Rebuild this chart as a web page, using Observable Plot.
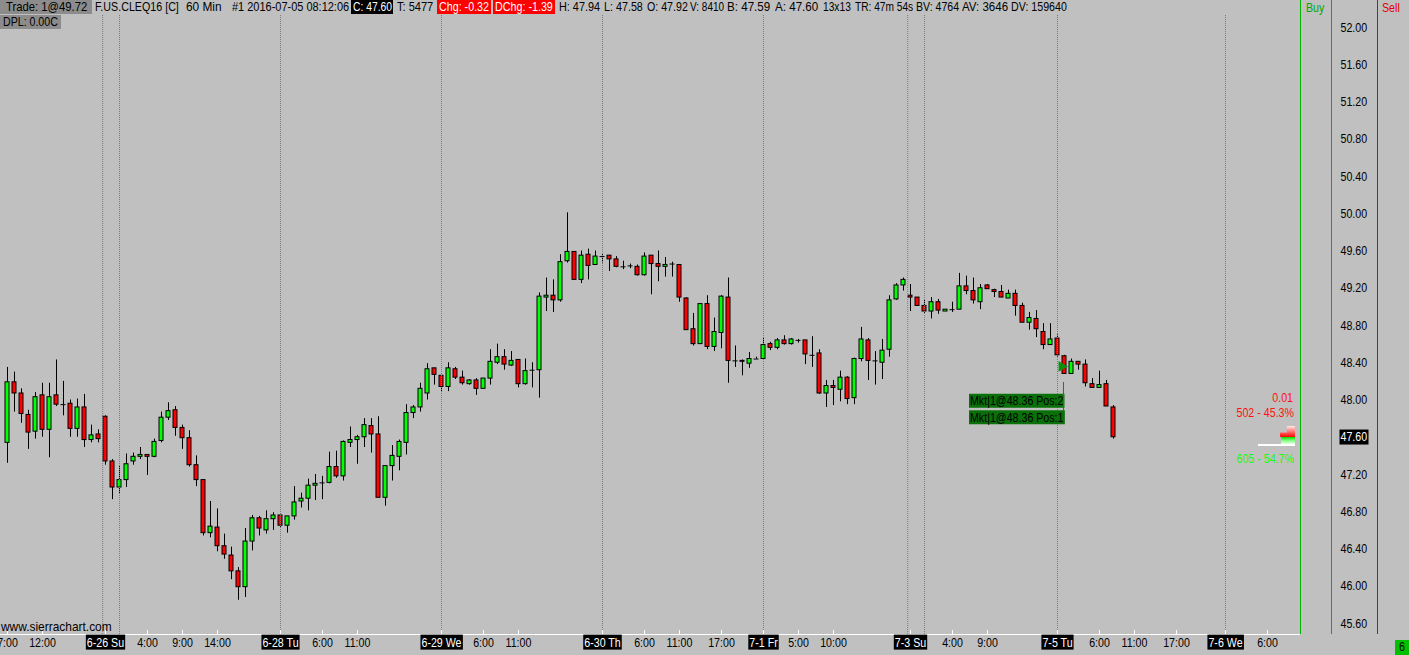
<!DOCTYPE html>
<html><head><meta charset="utf-8">
<script src="https://cdn.jsdelivr.net/npm/d3@7"></script>
<script src="https://cdn.jsdelivr.net/npm/@observablehq/plot@0.6"></script>
<style>
body{margin:0;background:#c0c0c0;}
#wrap{position:relative;width:1409px;height:655px;overflow:hidden;background:#c0c0c0;
 font-family:"Liberation Sans",Arial,sans-serif;font-size:13px;color:#000;}
.ov{position:absolute;white-space:nowrap;line-height:14px;transform:scaleX(0.82);transform-origin:0 0;}
.ovr{position:absolute;white-space:nowrap;line-height:14px;transform:scaleX(0.82);transform-origin:100% 0;text-align:right;}
.bx{position:absolute;}
</style></head><body><div id="wrap"></div>
<script>
// ---------- DATA (CL 60 min bars, index 1..159) ----------
const opens = [47.54,48.19,48.07,47.84,47.66,48.05,47.68,48.05,47.95,47.96,47.69,47.92,47.57,47.63,47.82,47.34,47.06,47.14,47.34,47.39,
47.41,47.39,47.56,47.81,47.89,47.70,47.59,47.30,47.14,46.57,46.63,46.43,46.33,46.16,45.99,46.48,46.73,46.60,46.72,46.76,
46.65,46.75,46.91,46.94,47.08,47.11,47.11,47.28,47.18,47.54,47.57,47.60,47.72,47.63,46.95,47.29,47.39,47.54,47.86,47.92,
48.07,48.34,48.26,48.14,48.33,48.24,48.17,48.21,48.12,48.23,48.40,48.46,48.37,48.43,48.17,48.32,48.32,49.10,49.12,49.07,
49.49,49.59,49.29,49.56,49.45,49.54,49.55,49.51,49.43,49.44,49.43,49.34,49.55,49.46,49.43,49.46,49.45,49.09,48.76,48.60,
49.03,48.57,48.72,49.10,48.42,48.42,48.39,48.44,48.44,48.60,48.56,48.64,48.60,48.64,48.64,48.48,48.50,48.07,48.15,48.11,
48.24,48.02,48.44,48.64,48.42,48.40,48.54,49.08,49.23,49.12,49.10,49.01,48.95,49.05,48.95,48.97,48.97,49.22,49.17,49.05,
49.23,49.18,49.16,49.09,49.14,49.01,48.83,48.87,48.73,48.59,48.66,48.47,48.28,48.41,48.38,48.17,48.13,48.17,47.92];
const highs = [48.35,48.30,48.12,47.89,48.08,48.18,48.18,48.43,48.20,48.00,48.01,48.06,47.73,47.68,47.83,47.36,47.29,47.42,47.43,47.49,
47.41,47.58,47.87,47.97,47.93,47.73,47.67,47.40,47.14,46.91,46.83,46.56,46.42,46.20,46.62,46.76,46.75,46.81,46.79,46.76,
46.75,47.07,47.00,47.15,47.20,47.18,47.44,47.45,47.56,47.71,47.62,47.80,47.80,47.82,47.29,47.51,47.57,47.95,47.94,48.18,
48.39,48.34,48.26,48.40,48.35,48.31,48.22,48.23,48.23,48.54,48.60,48.54,48.52,48.43,48.44,48.40,49.15,49.31,49.29,49.56,
50.01,49.59,49.60,49.62,49.60,49.57,49.55,49.54,49.49,49.46,49.45,49.58,49.55,49.60,49.53,49.48,49.45,49.10,48.93,49.03,
49.12,48.88,49.12,49.31,48.58,48.43,48.51,48.46,48.67,48.62,48.66,48.69,48.66,48.65,48.64,48.68,48.54,48.21,48.21,48.31,
48.25,48.45,48.78,48.66,48.52,48.65,49.12,49.25,49.31,49.24,49.10,49.07,49.10,49.08,48.97,49.05,49.36,49.33,49.31,49.24,
49.24,49.19,49.23,49.18,49.18,49.04,48.94,48.96,48.82,48.82,48.70,48.48,48.44,48.41,48.43,48.23,48.31,48.21,47.94];
const lows = [47.32,47.87,47.75,47.47,47.58,47.60,47.38,47.93,47.83,47.60,47.60,47.49,47.54,47.54,47.30,46.93,46.99,47.06,47.30,47.36,
47.19,47.38,47.54,47.78,47.61,47.47,47.28,47.07,46.54,46.52,46.37,46.29,46.07,45.85,45.88,46.38,46.54,46.56,46.60,46.62,
46.57,46.71,46.84,46.81,46.92,46.93,47.10,47.16,47.13,47.49,47.31,47.49,47.43,46.95,46.86,47.13,47.24,47.41,47.80,47.87,
48.00,48.16,48.08,48.09,48.22,48.16,48.16,48.05,48.12,48.16,48.38,48.32,48.36,48.13,48.16,48.13,48.02,48.95,48.94,49.05,
49.47,49.29,49.25,49.29,49.45,49.47,49.38,49.42,49.40,49.41,49.33,49.33,49.13,49.27,49.32,49.32,49.05,48.75,48.58,48.60,
48.54,48.52,48.55,48.18,48.35,48.26,48.34,48.44,48.44,48.53,48.54,48.59,48.59,48.61,48.38,48.35,48.06,47.92,47.94,47.98,
47.95,47.95,48.41,48.21,48.16,48.22,48.46,49.07,49.17,48.95,49.01,48.93,48.87,48.92,48.95,48.94,48.97,49.13,49.03,48.97,
49.19,49.10,49.10,49.09,48.90,48.83,48.75,48.67,48.54,48.59,48.46,48.28,48.28,48.32,48.14,48.13,48.13,47.93,47.58];
const closes = [48.19,48.07,47.85,47.65,48.03,47.68,48.03,47.95,47.95,47.69,47.92,47.57,47.62,47.58,47.34,47.06,47.14,47.31,47.39,47.41,
47.39,47.55,47.81,47.88,47.70,47.59,47.30,47.14,46.57,46.64,46.43,46.34,46.16,45.99,46.48,46.73,46.62,46.72,46.76,46.65,
46.75,46.90,46.94,47.08,47.10,47.11,47.28,47.18,47.55,47.57,47.60,47.73,47.63,46.95,47.29,47.40,47.55,47.86,47.92,48.12,
48.33,48.27,48.14,48.34,48.24,48.18,48.21,48.12,48.23,48.41,48.46,48.38,48.42,48.17,48.31,48.32,49.11,49.12,49.07,49.48,
49.59,49.29,49.55,49.44,49.54,49.54,49.51,49.43,49.43,49.44,49.34,49.54,49.46,49.43,49.45,49.46,49.10,48.75,48.60,49.03,
48.57,48.73,49.11,48.42,48.42,48.41,48.44,48.44,48.59,48.56,48.64,48.60,48.65,48.64,48.49,48.48,48.07,48.15,48.13,48.24,
48.01,48.44,48.65,48.42,48.42,48.53,49.07,49.23,49.29,49.10,49.01,48.95,49.05,48.96,48.97,48.97,49.22,49.17,49.07,49.20,
49.19,49.16,49.10,49.14,49.01,48.83,48.88,48.76,48.59,48.65,48.48,48.28,48.41,48.38,48.18,48.13,48.16,47.93,47.60];

// session boundaries (bar index) and x-axis labels
const sessionStarts = [14.6, 17, 40, 63, 86, 109, 129.6, 132, 151, 175];
const dateIdx   = [15, 40, 63, 86, 109, 130, 151, 175];
const dateText  = ["6-26 Su","6-28 Tu","6-29 We","6-30 Th","7-1 Fr","7-3 Su","7-5 Tu","7-6 We"];
const timeIdx   = [1, 6, 21, 26, 31, 46, 51, 69, 74, 92, 97, 103, 114, 119, 136, 141, 157, 162, 168, 181];
const timeText  = ["7:00","12:00","4:00","9:00","14:00","6:00","11:00","6:00","11:00","6:00","11:00","17:00","5:00","10:00","4:00","9:00","6:00","11:00","17:00","6:00"];
const yTicks = [45.60,46.00,46.40,46.80,47.20,47.60,48.00,48.40,48.80,49.20,49.60,50.00,50.40,50.80,51.20,51.60,52.00];

// trade annotations
const tradeBar = 151, tradePrice = 48.36;
const tradeTexts = ["Mkt|1@48.36 Pos:2", "Mkt|1@48.36 Pos:1"];

// header fields
const headerText = ["Trade: 1@49.72","F.US.CLEQ16 [C]","60 Min","#1 2016-07-05 08:12:06","C: 47.60","T: 5477","Chg: -0.32","DChg: -1.39",
 "H: 47.94","L: 47.58","O: 47.92","V: 8410","B: 47.59","A: 47.60","13x13","TR: 47m 54s","BV: 4764","AV: 3646","DV: 159640"];
const dplText = "DPL: 0.00C";
const sideText = ["0.01", "502 - 45.3%", "605 - 54.7%"];

// ---------- LAYOUT ----------
const W = 1409, H = 655, mR = 109, mB = 21, PX = 7;
const PPD = 93.125;               // pixels per dollar
const yTop = 52 + 27 / PPD, yBot = 52 - (H - mB - 27) / PPD;
const FONT = '"Liberation Sans",Arial,sans-serif';
const SX = 0.82;                  // horizontal squeeze to mimic the narrow chart font
const UP = "#00ff00", DN = "#ff0000";

const bars = opens.map((o, k) => ({i: k + 1, open: o, high: highs[k], low: lows[k], close: closes[k]}));
const body = bars.filter(d => d.open !== d.close);
const doji = bars.filter(d => d.open === d.close);
const timeLabels = timeIdx.map((i, k) => ({i, t: timeText[k]}));
const dateLabels = dateIdx.map((i, k) => ({i, t: dateText[k]}));
const lastClose = closes[closes.length - 1];

const plot = Plot.plot({
  width: W, height: H, marginLeft: 0, marginRight: mR, marginTop: 0, marginBottom: mB,
  style: {background: "#c0c0c0", fontFamily: FONT, fontSize: "13px", color: "#000", overflow: "hidden"},
  x: {domain: [0, (W - mR) / PX], axis: null},
  y: {domain: [yBot, yTop], axis: null},
  marks: [
    Plot.ruleX(bars, {x: "i", y1: "low", y2: "high", stroke: "#000", strokeWidth: 1}),
    Plot.rect(body, {x1: d => d.i - 2 / PX, x2: d => d.i + 2 / PX, y1: "open", y2: "close",
      fill: d => d.close > d.open ? UP : DN, stroke: "#000", strokeWidth: 1}),
    Plot.ruleY(doji, {y: "open", x1: d => d.i - 2.5 / PX, x2: d => d.i + 2.5 / PX, stroke: "#000"}),
    Plot.ruleX(sessionStarts, {stroke: "#7a7a7a", strokeDasharray: "1,1", insetTop: 15}),
    Plot.ruleY([yBot], {stroke: "#fff"}),
    Plot.ruleX([...timeIdx, ...dateIdx], {stroke: "#fff", insetTop: H - mB - 4}),
    Plot.text(timeLabels, {x: "i", text: "t", frameAnchor: "bottom", dy: 12, fill: "#000", fontSize: 13}),
    Plot.text(dateLabels, {x: "i", text: "t", frameAnchor: "bottom", dy: 12, fill: "#fff", fontSize: 13,
      ariaDescription: "boxblack", className: "boxblack"}),
    Plot.axisY({ticks: yTicks, anchor: "right", tickSize: 0, tickPadding: 40, tickFormat: d => d.toFixed(2), fontSize: 13, fill: "#000"}),
    Plot.text([lastClose], {y: d => d, text: d => d.toFixed(2), frameAnchor: "right", dx: 40, textAnchor: "start",
      fill: "#fff", fontSize: 13, ariaDescription: "boxblack", className: "boxblack"}),
    Plot.dot([tradePrice], {x: () => tradeBar + 0.6, y: d => d, symbol: "triangle", r: 4, rotate: 90, fill: "#0f8f0f", stroke: "none"}),
    Plot.text([tradeTexts[0]], {x: () => tradeBar + 1, y: () => tradePrice, text: d => d, textAnchor: "end", dx: -1, dy: 34.5,
      fill: "#000", fontSize: 13, ariaDescription: "boxgreen", className: "boxgreen"}),
    Plot.text([tradeTexts[1]], {x: () => tradeBar + 1, y: () => tradePrice, text: d => d, textAnchor: "end", dx: -1, dy: 51,
      fill: "#000", fontSize: 13, ariaDescription: "boxgreen", className: "boxgreen"})
  ]
});

const wrap = document.getElementById("wrap");
plot.style.position = "absolute"; plot.style.left = "0"; plot.style.top = "0";
wrap.appendChild(plot);

// squeeze all svg text horizontally around its anchor
plot.querySelectorAll("text").forEach(t => {
  const tr = t.getAttribute("transform") || "";
  t.setAttribute("transform", tr + ` scale(${SX},1)`);
});

function boxify(label, fill, padL, padR, h) {
  const set = new Set([...plot.querySelectorAll(`g[aria-description="${label}"] text, g.${label} text, .${label} text`)]);
  set.forEach(t => {
    const b = t.getBBox();
    const r = document.createElementNS("http://www.w3.org/2000/svg", "rect");
    r.setAttribute("x", b.x - padL / SX); r.setAttribute("width", b.width + (padL + padR) / SX);
    const cy = b.y + b.height / 2;
    r.setAttribute("y", cy - h / 2); r.setAttribute("height", h);
    r.setAttribute("fill", fill);
    if (t.getAttribute("transform")) r.setAttribute("transform", t.getAttribute("transform"));
    t.parentNode.insertBefore(r, t);
  });
}
boxify("boxblack", "#000", 1, 1, 15);
boxify("boxgreen", "#0a700a", 1, 1, 14);

// ---------- HTML chrome overlays ----------
function ov(text, left, top, css, cls) {
  const d = document.createElement("div");
  d.className = cls || "ov"; d.textContent = text;
  d.style.left = left + "px"; d.style.top = top + "px";
  if (css) d.style.cssText += css;
  wrap.appendChild(d);
  return d;
}
// fit a text div horizontally between two x positions
function fit(d, left, right) {
  const nat = d.offsetWidth;
  if (nat > 0) d.style.transform = `scaleX(${(right - left) / nat})`;
}
function box(left, top, w, h, bg) {
  const d = document.createElement("div");
  d.className = "bx";
  d.style.cssText = `left:${left}px;top:${top}px;width:${w}px;height:${h}px;background:${bg}`;
  wrap.appendChild(d);
}
// header backgrounds
box(0, 0, 92, 14, "#8c8c8c");
box(351, 0, 42, 14, "#000");
box(437, 0, 54, 14, "#f00");
box(493, 0, 62, 14, "#f00");
box(0, 15, 61, 14, "#8c8c8c");
const headerLeft  = [6, 95, 186, 232, 353, 397, 439, 495, 559, 604, 647, 690, 727, 775, 823, 855, 916, 962, 1011];
const headerRight = [87, 179, 222, 349, 392, 433, 489, 553, 600, 643, 688, 724, 770, 818, 851, 913, 959, 1008, 1067];
const headerColor = {4: "#fff", 6: "#fff", 7: "#fff"};
headerText.forEach((t, k) => {
  const d = ov(t, headerLeft[k], 0, `font-size:13.5px;color:${headerColor[k] || "#000"};`);
  fit(d, headerLeft[k], headerRight[k]);
});
fit(ov(dplText, 3, 15, "font-size:13.5px;"), 3, 58);

// column lines
function vline(x, color) { box(x, 0, 1, 634, color); }
vline(1300, "#00b400"); vline(1331, "#00b400"); vline(1377, "#e00000");
ov("Buy", 1306, 1, "color:#00a800;");
ov("Sell", 1382, 1, "color:#e00000;");
fit(ov("www.sierrachart.com", 1, 620, ""), 1, 112);
box(1395, 640, 14, 15, "#00c000");
ov("6", 1399, 640, "");

// side panel (bid/ask volume summary)
ov(sideText[0], 1193, 391, "width:100px;color:#ff1010;", "ovr");
ov(sideText[1], 1193, 406, "width:101px;color:#ff1010;", "ovr");
ov(sideText[2], 1193, 452, "width:101px;color:#10ff10;", "ovr");
const g1 = document.createElement("div");
g1.style.cssText = "position:absolute;left:1280px;top:426px;width:15px;height:11px;background:linear-gradient(to bottom,#ffe8e8,#ff6060 60%,#ff0000);clip-path:polygon(45% 0,100% 0,100% 100%,0 100%,0 60%,45% 60%);";
wrap.appendChild(g1);
const g2 = document.createElement("div");
g2.style.cssText = "position:absolute;left:1281px;top:437px;width:14px;height:7px;background:linear-gradient(to bottom,#00e000,#80ff80,#e8ffe8);";
wrap.appendChild(g2);
box(1258, 444, 37, 2, "#fff");
box(1063, 382, 1, 29, "#108a10");
</script></body></html>
